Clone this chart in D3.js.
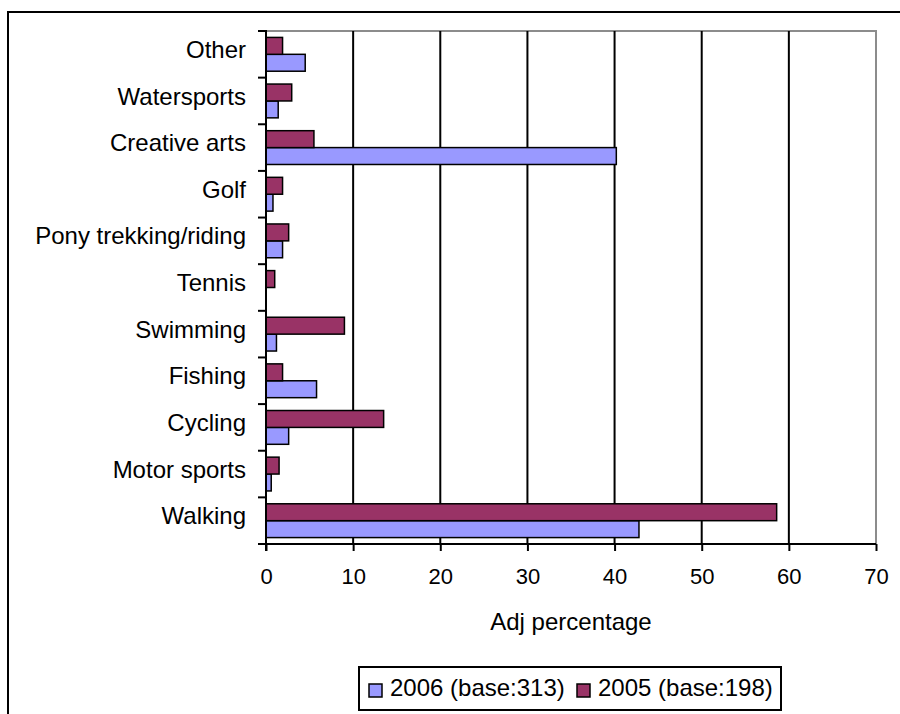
<!DOCTYPE html>
<html>
<head>
<meta charset="utf-8">
<script src="https://cdn.jsdelivr.net/npm/d3@7"></script>
<style>
  html, body { margin: 0; padding: 0; background: #fff; }
  svg { display: block; }
  text { font-family: "Liberation Sans", Arial, sans-serif; fill: #000; }
</style>
</head>
<body>
<svg id="chart" width="900" height="714"></svg>
<script>
// ---- data ----
const categories = ["Walking", "Motor sports", "Cycling", "Fishing", "Swimming", "Tennis",
                    "Pony trekking/riding", "Golf", "Creative arts", "Watersports", "Other"];
const series2006 = [42.8, 0.6, 2.6, 5.8, 1.2, 0, 1.9, 0.8, 40.2, 1.4, 4.5];
const series2005 = [58.6, 1.5, 13.5, 1.9, 9.0, 1.0, 2.6, 1.9, 5.5, 2.95, 1.9];
const seriesNames = ["2006 (base:313)", "2005 (base:198)"];
const seriesColors = ["#9999FF", "#993366"];
const xTicks = [0, 10, 20, 30, 40, 50, 60, 70];
const xTitle = "Adj percentage";

// ---- layout ----
const svg = d3.select("#chart");
const plot = { left: 266, right: 876, top: 31, bottom: 544 };

// outer chart area border
svg.append("path")
  .attr("d", "M8,714 L8,12 L900,12")
  .attr("fill", "none").attr("stroke", "#000").attr("stroke-width", 2);

const x = d3.scaleLinear().domain([0, 70]).range([plot.left, plot.right]);
const y = d3.scaleBand().domain(categories.slice().reverse())
  .range([plot.top, plot.bottom]).paddingInner(0).paddingOuter(0);
const inner = d3.scaleBand().domain([1, 0]) // 2005 on top, 2006 below
  .range([0, y.bandwidth()]).paddingInner(0).paddingOuter(0.38);

// plot area border (gray top & right)
svg.append("path")
  .attr("d", `M${plot.left},${plot.top} L${plot.right},${plot.top} L${plot.right},${plot.bottom}`)
  .attr("fill", "none").attr("stroke", "#8c8c8c").attr("stroke-width", 2);

// gridlines
svg.append("g").selectAll("line")
  .data(xTicks.filter(t => t > 0 && t < 70))
  .join("line")
  .attr("x1", d => x(d)).attr("x2", d => x(d))
  .attr("y1", plot.top).attr("y2", plot.bottom)
  .attr("stroke", "#000").attr("stroke-width", 2);

// bars
const data = categories.map((c, i) => ({ c, vals: [series2006[i], series2005[i]] }));
const groups = svg.append("g").selectAll("g")
  .data(data).join("g")
  .attr("transform", d => `translate(0,${y(d.c)})`);
groups.selectAll("rect")
  .data(d => d.vals.map((v, s) => ({ v, s })))
  .join("rect")
  .filter(d => d.v > 0)
  .attr("x", x(0))
  .attr("y", d => inner(d.s))
  .attr("width", d => x(d.v) - x(0))
  .attr("height", inner.bandwidth())
  .attr("fill", d => seriesColors[d.s])
  .attr("stroke", "#000").attr("stroke-width", 1.5);

// x axis
const xAxis = d3.axisBottom(x).tickValues(xTicks).tickSize(7).tickPadding(17).tickFormat(d3.format("d"));
const gx = svg.append("g").attr("transform", `translate(0,${plot.bottom})`).call(xAxis);
gx.select(".domain").remove();
gx.append("line").attr("x1", plot.left - 8).attr("x2", plot.right).attr("y1", 0).attr("y2", 0)
  .attr("stroke", "#000").attr("stroke-width", 2);
gx.selectAll(".tick line").attr("stroke", "#000").attr("stroke-width", 2);
gx.selectAll(".tick text").attr("font-size", 22).attr("font-family", "Liberation Sans, Arial, sans-serif")
  .attr("fill", "#000");

// y axis
const yAxis = d3.axisLeft(y).tickSize(0).tickPadding(20);
const gy = svg.append("g").attr("transform", `translate(${plot.left},0)`).call(yAxis);
gy.select(".domain").remove();
gy.append("line").attr("x1", 0).attr("x2", 0).attr("y1", plot.top - 1).attr("y2", plot.bottom + 7)
  .attr("stroke", "#000").attr("stroke-width", 2);
gy.selectAll(".tick text").attr("font-size", 24).attr("dy", "0.15em")
  .attr("font-family", "Liberation Sans, Arial, sans-serif").attr("fill", "#000");
// category boundary ticks
const bounds = categories.map(c => y(c)).concat([plot.bottom]);
gy.append("g").selectAll("line").data(bounds).join("line")
  .attr("x1", -8).attr("x2", 0).attr("y1", d => d).attr("y2", d => d)
  .attr("stroke", "#000").attr("stroke-width", 2);

// x title
svg.append("text").attr("x", (plot.left + plot.right) / 2).attr("y", 630)
  .attr("text-anchor", "middle").attr("font-size", 24).text(xTitle);

// legend
const lg = svg.append("g");
lg.append("rect").attr("x", 359).attr("y", 667).attr("width", 422).attr("height", 43)
  .attr("fill", "#fff").attr("stroke", "#000").attr("stroke-width", 2);
const legendX = [369, 577];
seriesNames.forEach((n, i) => {
  lg.append("rect").attr("x", legendX[i]).attr("y", 684).attr("width", 13).attr("height", 13)
    .attr("fill", seriesColors[i]).attr("stroke", "#000").attr("stroke-width", 1.5);
  lg.append("text").attr("x", legendX[i] + 21).attr("y", 696).attr("font-size", 24).text(n);
});
</script>
</body>
</html>
